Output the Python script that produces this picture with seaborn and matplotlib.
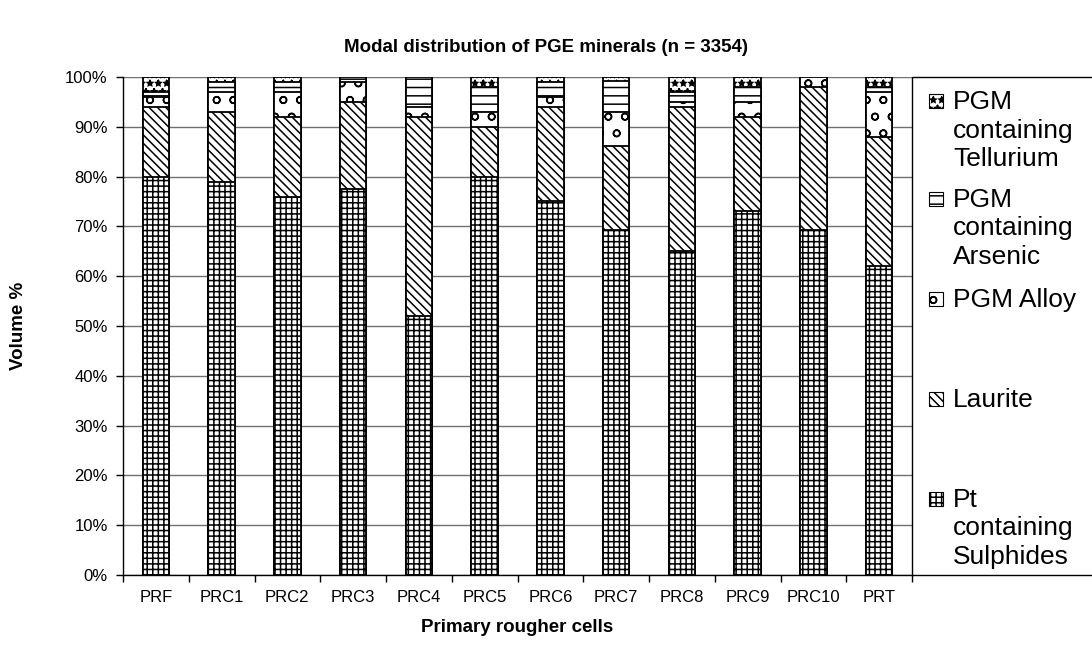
import matplotlib
matplotlib.use("Agg")
import matplotlib.pyplot as plt
from matplotlib.patches import Rectangle
from matplotlib.ticker import FixedLocator, FuncFormatter
import numpy as np
import pandas as pd
import seaborn as sns

# Volume % of each PGE mineral group per primary rougher cell
cells = ["PRF", "PRC1", "PRC2", "PRC3", "PRC4", "PRC5",
         "PRC6", "PRC7", "PRC8", "PRC9", "PRC10", "PRT"]
pt_sulphides = [80, 79, 76, 77.5, 52, 80, 75, 69.3, 65, 73, 69.3, 62]
laurite = [14, 14, 16, 17.5, 40, 10, 19, 16.8, 29, 19, 28.7, 26]
pgm_alloy = [2, 4, 5, 4, 2, 3, 2, 6.8, 1, 3, 2, 9]
pgm_arsenic = [1, 2, 2, 1, 6, 5, 3, 6.2, 2, 3, 0, 1]
pgm_tellurium = [3, 1, 1, 0, 0, 2, 1, 0.9, 3, 2, 0, 2]

minerals = ["Pt containing Sulphides", "Laurite", "PGM Alloy",
            "PGM containing Arsenic", "PGM containing Tellurium"]
legend_lines = [["Pt", "containing", "Sulphides"], ["Laurite"], ["PGM Alloy"],
                ["PGM", "containing", "Arsenic"], ["PGM", "containing", "Tellurium"]]
hatches = ["+++", "\\\\\\\\", "o", "--", "**"]
y_ticks = list(range(0, 101, 10))

df = pd.DataFrame({
    "cell": cells,
    minerals[0]: pt_sulphides,
    minerals[1]: laurite,
    minerals[2]: pgm_alloy,
    minerals[3]: pgm_arsenic,
    minerals[4]: pgm_tellurium,
})
cum = df[minerals].cumsum(axis=1)
cum.insert(0, "cell", df["cell"])

sns.set_style("white")
plt.rcParams["font.family"] = ["Liberation Sans", "DejaVu Sans"]
plt.rcParams["hatch.linewidth"] = 1.1
for key in ["text.color", "axes.labelcolor", "xtick.color", "ytick.color",
            "xtick.labelcolor", "ytick.labelcolor"]:
    plt.rcParams[key] = "black"

W, H = 1092, 647
fig = plt.figure(figsize=(W / 100, H / 100), dpi=100)
ax_l, ax_r, ax_t, ax_b = 123, 912, 77, 575
ax = fig.add_axes([ax_l / W, 1 - ax_b / H, (ax_r - ax_l) / W, (ax_b - ax_t) / H])

# stacked bars: draw cumulative totals from the top layer downwards
for name, hatch in reversed(list(zip(minerals, hatches))):
    sns.barplot(data=cum, x="cell", y=name, order=cells, color="white",
                saturation=1, edgecolor="black", linewidth=1.3, hatch=hatch,
                width=0.4, errorbar=None, ax=ax, zorder=3)

ax.set_xlim(-0.5, len(cells) - 0.5)
ax.set_ylim(0, 100)
ax.set_yticks(y_ticks)
ax.yaxis.set_major_formatter(FuncFormatter(lambda v, p: f"{v:.0f}%"))
ax.yaxis.grid(True, color="#707070", linewidth=1.0, zorder=0)
ax.set_axisbelow(True)
ax.xaxis.set_minor_locator(FixedLocator(np.arange(-0.5, len(cells), 1.0)))
ax.tick_params(axis="x", which="major", length=0, pad=11, labelsize=12, labelcolor="black")
ax.tick_params(axis="x", which="minor", length=5, width=1, color="black", direction="out", bottom=True)
ax.tick_params(axis="y", which="major", length=5, width=1, color="black", direction="out",
               left=True, pad=6, labelsize=12, labelcolor="black")
ax.set_xlabel("")
ax.set_ylabel("")
for side in ["top", "right"]:
    ax.spines[side].set_visible(False)
for side in ["left", "bottom"]:
    ax.spines[side].set_color("black")
    ax.spines[side].set_linewidth(1.0)

# titles
fig.text(0.5, 1 - 48 / H, "Modal distribution of PGE minerals (n = 3354)",
         ha="center", va="center", fontsize=13.5, fontweight="bold", color="black")
fig.text((ax_l + ax_r) / 2 / W, 1 - 628 / H, "Primary rougher cells",
         ha="center", va="center", fontsize=13.5, fontweight="bold", color="black")
fig.text(19 / W, 1 - (ax_t + ax_b) / 2 / H, "Volume %", rotation=90,
         ha="center", va="center", fontsize=13.5, fontweight="bold", color="black")

# legend panel
fig.patches.append(Rectangle((ax_r / W, 1 - ax_b / H), 0.3, (ax_b - ax_t) / H,
                             transform=fig.transFigure, fill=False,
                             edgecolor="black", linewidth=1.0, clip_on=False))
first_baselines = [506.7, 406.7, 306.7, 206.7, 109.3]
line_step = 28.5
for lines, hatch, base in zip(legend_lines, hatches, first_baselines):
    fig.patches.append(Rectangle((929 / W, 1 - (base - 1) / H), 14 / W, 14 / H,
                                 transform=fig.transFigure, facecolor="white",
                                 edgecolor="black", linewidth=0.8, hatch=hatch))
    for k, txt in enumerate(lines):
        fig.text(953 / W, 1 - (base + k * line_step) / H, txt,
                 ha="left", va="baseline", fontsize=19, color="black")

fig.savefig("out.png", dpi=100, facecolor="white")
